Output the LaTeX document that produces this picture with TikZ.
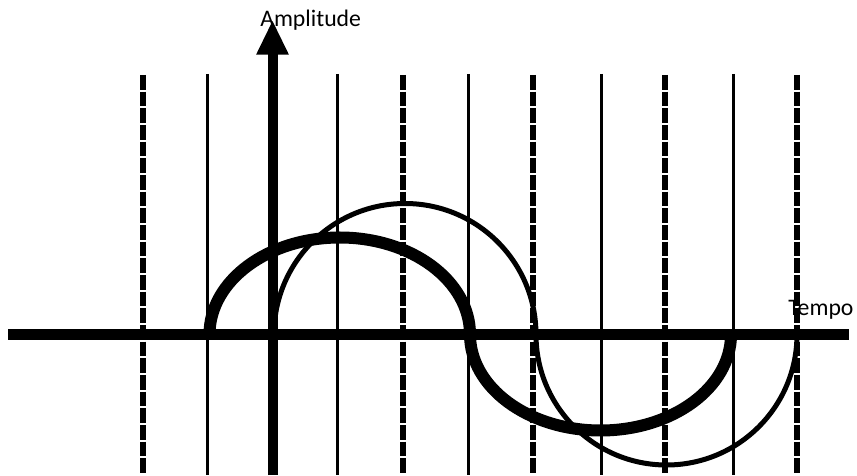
\documentclass[tikz,border=0pt]{standalone}
\usepackage{fontspec}
\setmainfont{Carlito}
\usetikzlibrary{arrows.meta, positioning}
\tikzset{
  gridsolid/.style={line width=2.25pt},
  griddashed/.style={line width=4.5pt, dash pattern=on 11pt off 1.5pt},
  axisline/.style={line width=8pt},
  wavethick/.style={line width=9pt},
  wavethin/.style={line width=3.75pt},
  axislabel/.style={font=\fontsize{17.8}{21}\selectfont, inner sep=0pt}
}

\begin{document}
\begin{tikzpicture}[x=0.75pt, y=0.75pt]
  \useasboundingbox (0,0) rectangle (857,475);
  % grid
  \foreach \x in {207, 337, 468, 601, 733}
    \draw[gridsolid] (\x,401) -- (\x,0);
  \foreach \x in {143, 403, 533, 665, 797}
    \draw[griddashed] (\x,400) -- (\x,0);
  % axes
  \coordinate (xl) at (8,140.5);
  \coordinate (xr) at (849,140.5);
  \coordinate (yb) at (272.5,0);
  \coordinate (yt) at (272.5,455);
  \draw[axisline] (xl) -- (xr);
  \draw[axisline, line width=7.5pt, -{Triangle[width=22.5pt, length=26pt]}] (yb) -- (yt);
  \node[axislabel, anchor=base west] (amp) at (260,448.3) {Amplitude};
  \node[axislabel, anchor=base west] (tempo) at (788,159) {Tempo};
  % waves
  \draw[wavethick] (209.5,140.5) arc[start angle=180, end angle=0, x radius=130.25, y radius=97]
    arc[start angle=180, end angle=360, x radius=130.5, y radius=96];
  \draw[wavethin] (274,140.5) arc[start angle=180, end angle=0, radius=131]
    arc[start angle=180, end angle=360, radius=130.5];
\end{tikzpicture}
\end{document}
